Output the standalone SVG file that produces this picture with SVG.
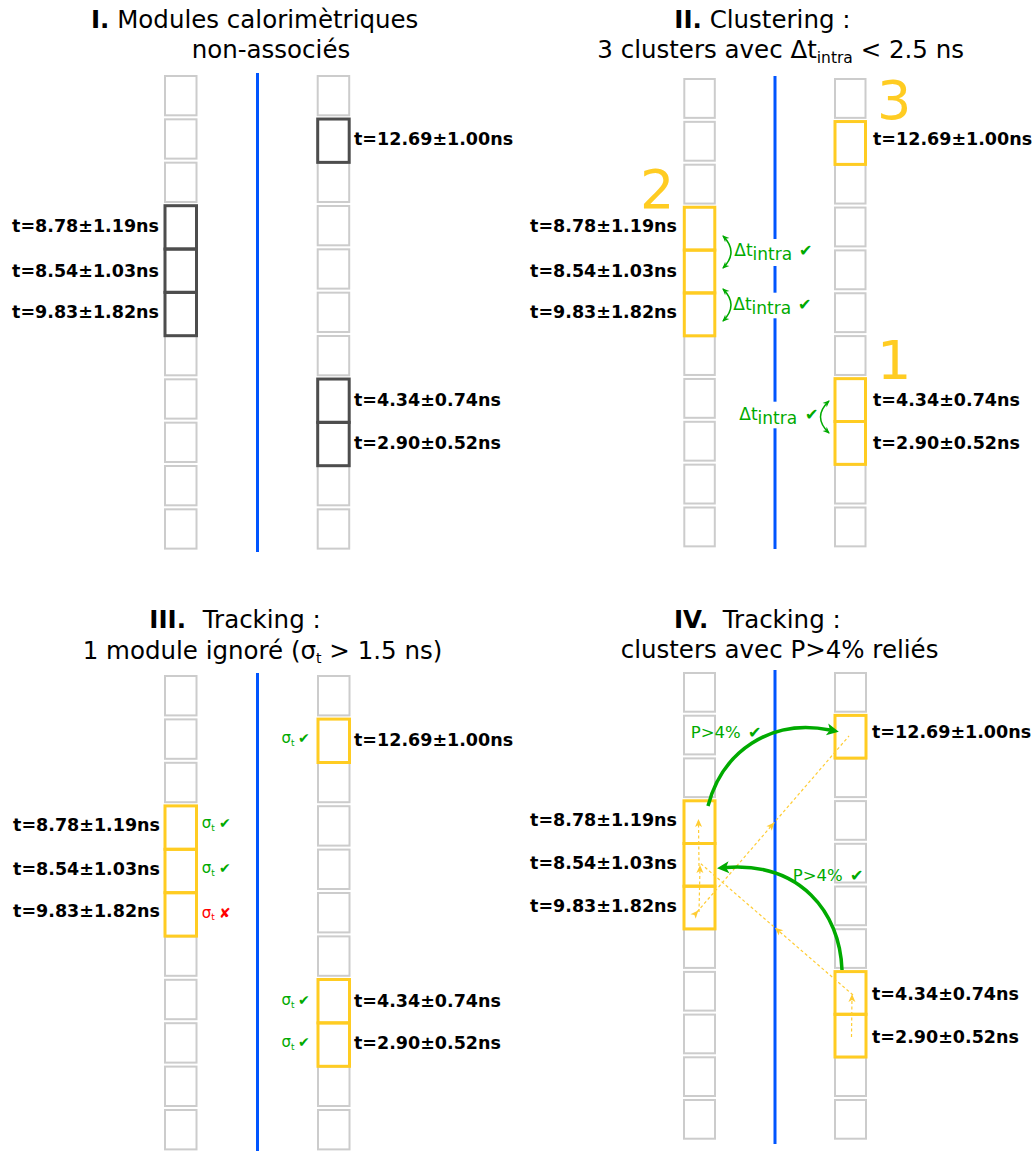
<svg xmlns="http://www.w3.org/2000/svg" width="1035" height="1151" viewBox="0 0 1035 1151">
<style>
text{font-family:"DejaVu Sans","Liberation Sans",sans-serif}
.t{font-size:24.5px;fill:#000}
.b{font-weight:bold}
.lab{font-size:17.5px;font-weight:bold;fill:#000}
.c{fill:#fff;stroke:#ccc;stroke-width:2}
.d{fill:none;stroke:#4d4d4d;stroke-width:3}
.y{fill:none;stroke:#ffcc22;stroke-width:3}
.axis{stroke:#0055ff;stroke-width:3}
.g{fill:#00aa00}
.r{fill:#ff0000}
.num{font-size:54px;fill:#ffcc22}
.dt{font-size:17px;fill:#00aa00}
.ck{font-size:16px}
.ck2{font-size:14px}
.sg{font-size:15px}
.ydash{fill:none;stroke:#ffcc33;stroke-width:1.2;stroke-dasharray:3 2.5}
.garc{fill:none;stroke:#00aa00;stroke-width:3.5}
.gsm{fill:none;stroke:#00aa00;stroke-width:1.5}
</style>
<defs>
<marker id="ga" viewBox="-12 -7 14 14" refX="-8" refY="0" markerWidth="14" markerHeight="14" markerUnits="userSpaceOnUse" orient="auto"><path d="M1,0 L-11,-6 L-8,0 L-11,6 z" fill="#00aa00"/></marker>
<marker id="gs" viewBox="-8 -5 10 10" refX="0" refY="0" markerWidth="10" markerHeight="10" markerUnits="userSpaceOnUse" orient="auto-start-reverse"><path d="M1,0 L-6,-3 L-4,0 L-6,3 z" fill="#00aa00"/></marker>
<marker id="ya" viewBox="-8 -5 10 10" refX="0" refY="0" markerWidth="10" markerHeight="10" markerUnits="userSpaceOnUse" orient="auto"><path d="M2,0 L-6,-3.5 L-4,0 L-6,3.5 z" fill="#ffcc33"/></marker>
</defs>
<rect width="1035" height="1151" fill="#fff"/>

<!-- Titles -->
<g id="title-I"><text class="t" x="91" y="27.5"><tspan class="b">I.</tspan> Modules calorimètriques</text><text class="t" x="191.7" y="58.3">non-associés</text></g>
<g id="title-II"><text class="t" x="674.3" y="28.3"><tspan class="b">II.</tspan> Clustering :</text><text class="t" x="597.3" y="58.3">3 clusters avec Δt<tspan font-size="15.5" dy="4.5">intra</tspan><tspan dy="-4.5"> &lt; 2.5 ns</tspan></text></g>
<g id="title-III"><text class="t" x="149.3" y="627.7"><tspan class="b">III.</tspan><tspan x="202.7">Tracking :</tspan></text><text class="t" x="82.7" y="659">1 module ignoré (σ<tspan font-size="14" dy="4">t</tspan><tspan dy="-4"> &gt; 1.5 ns)</tspan></text></g>
<g id="title-IV"><text class="t" x="674" y="628.3"><tspan class="b">IV.</tspan><tspan x="722.7">Tracking :</tspan></text><text class="t" x="620.7" y="657.7">clusters avec P&gt;4% reliés</text></g>

<!-- Axes -->
<g id="axes">
<line class="axis" x1="257.5" y1="73" x2="257.5" y2="552"/>
<line class="axis" x1="775" y1="76" x2="775" y2="549"/>
<line class="axis" x1="257.5" y1="673" x2="257.5" y2="1151"/>
<line class="axis" x1="775" y1="670" x2="775" y2="1144"/>
</g>

<!-- Panel I -->
<g id="p1-left" transform="translate(165,75)">
<rect class="c" x="0" y="1" width="31.5" height="39.3"/><rect class="c" x="0" y="44.33" width="31.5" height="39.3"/><rect class="c" x="0" y="87.67" width="31.5" height="39.3"/>
<rect class="c" x="0" y="261" width="31.5" height="39.3"/><rect class="c" x="0" y="304.33" width="31.5" height="39.3"/><rect class="c" x="0" y="347.67" width="31.5" height="39.3"/><rect class="c" x="0" y="391" width="31.5" height="39.3"/><rect class="c" x="0" y="434.33" width="31.5" height="39.3"/>
<rect class="d" x="0" y="130.7" width="31.5" height="43.33"/><rect class="d" x="0" y="174.03" width="31.5" height="43.33"/><rect class="d" x="0" y="217.37" width="31.5" height="43.33"/>
</g>
<g id="p1-right" transform="translate(317.7,75)">
<rect class="c" x="0" y="1" width="31.5" height="39.3"/><rect class="c" x="0" y="87.67" width="31.5" height="39.3"/><rect class="c" x="0" y="131" width="31.5" height="39.3"/><rect class="c" x="0" y="174.33" width="31.5" height="39.3"/><rect class="c" x="0" y="217.67" width="31.5" height="39.3"/><rect class="c" x="0" y="261" width="31.5" height="39.3"/><rect class="c" x="0" y="391" width="31.5" height="39.3"/><rect class="c" x="0" y="434.33" width="31.5" height="39.3"/>
<rect class="d" x="0" y="44.03" width="31.5" height="43.33"/><rect class="d" x="0" y="304.03" width="31.5" height="43.33"/><rect class="d" x="0" y="347.37" width="31.5" height="43.33"/>
</g>
<g id="p1-labels">
<text class="lab" x="354" y="145.3">t=12.69±1.00ns</text>
<text class="lab" x="159" y="232.3" text-anchor="end">t=8.78±1.19ns</text>
<text class="lab" x="159" y="277.3" text-anchor="end">t=8.54±1.03ns</text>
<text class="lab" x="159" y="318.3" text-anchor="end">t=9.83±1.82ns</text>
<text class="lab" x="354" y="406.3">t=4.34±0.74ns</text>
<text class="lab" x="354" y="449.3">t=2.90±0.52ns</text>
</g>

<!-- Panel II -->
<g id="p2-left" transform="translate(684.3,78)">
<rect class="c" x="0" y="1" width="30.5" height="38.85"/><rect class="c" x="0" y="43.85" width="30.5" height="38.85"/><rect class="c" x="0" y="86.7" width="30.5" height="38.85"/>
<rect class="c" x="0" y="258.1" width="30.5" height="38.85"/><rect class="c" x="0" y="300.95" width="30.5" height="38.85"/><rect class="c" x="0" y="343.8" width="30.5" height="38.85"/><rect class="c" x="0" y="386.65" width="30.5" height="38.85"/><rect class="c" x="0" y="429.5" width="30.5" height="38.85"/>
<rect class="y" x="0" y="129.25" width="30.5" height="42.85"/><rect class="y" x="0" y="172.1" width="30.5" height="42.85"/><rect class="y" x="0" y="214.95" width="30.5" height="42.85"/>
</g>
<g id="p2-right" transform="translate(835,78)">
<rect class="c" x="0" y="1" width="30.5" height="38.85"/><rect class="c" x="0" y="86.7" width="30.5" height="38.85"/><rect class="c" x="0" y="129.55" width="30.5" height="38.85"/><rect class="c" x="0" y="172.4" width="30.5" height="38.85"/><rect class="c" x="0" y="215.25" width="30.5" height="38.85"/><rect class="c" x="0" y="258.1" width="30.5" height="38.85"/><rect class="c" x="0" y="386.65" width="30.5" height="38.85"/><rect class="c" x="0" y="429.5" width="30.5" height="38.85"/>
<rect class="y" x="0" y="43.55" width="30.5" height="42.85"/><rect class="y" x="0" y="300.65" width="30.5" height="42.85"/><rect class="y" x="0" y="343.5" width="30.5" height="42.85"/>
</g>
<g id="p2-numbers">
<text class="num" x="877" y="119">3</text>
<text class="num" x="640" y="208">2</text>
<text class="num" x="877" y="379">1</text>
</g>
<g id="p2-labels">
<text class="lab" x="873" y="145.3">t=12.69±1.00ns</text>
<text class="lab" x="677" y="232.3" text-anchor="end">t=8.78±1.19ns</text>
<text class="lab" x="677" y="277.3" text-anchor="end">t=8.54±1.03ns</text>
<text class="lab" x="677" y="318.3" text-anchor="end">t=9.83±1.82ns</text>
<text class="lab" x="873" y="406.3">t=4.34±0.74ns</text>
<text class="lab" x="873" y="449.3">t=2.90±0.52ns</text>
</g>
<g id="p2-dt">
<rect x="732" y="239" width="84" height="27" fill="#fff"/>
<rect x="731" y="292.7" width="84" height="25.6" fill="#fff"/>
<rect x="737" y="401.7" width="84" height="26.6" fill="#fff"/>
<path class="gsm" d="M723,236 Q739,252 723,268" marker-start="url(#gs)" marker-end="url(#gs)"/>
<path class="gsm" d="M723,289 Q739,305 723,321" marker-start="url(#gs)" marker-end="url(#gs)"/>
<path class="gsm" d="M829,401 Q812,417 829,433" marker-start="url(#gs)" marker-end="url(#gs)"/>
<text class="dt" x="734.3" y="256">Δt<tspan dy="4">intra</tspan><tspan class="ck" x="799" dy="-4">✔</tspan></text>
<text class="dt" x="733.3" y="309.5">Δt<tspan dy="4">intra</tspan><tspan class="ck" x="798" dy="-4">✔</tspan></text>
<text class="dt" x="739.3" y="420">Δt<tspan dy="4">intra</tspan><tspan class="ck" x="805" dy="-4">✔</tspan></text>
</g>

<!-- Panel III -->
<g id="p3-left" transform="translate(165,675)">
<rect class="c" x="0" y="1" width="31.5" height="39.4"/><rect class="c" x="0" y="44.4" width="31.5" height="39.4"/><rect class="c" x="0" y="87.8" width="31.5" height="39.4"/>
<rect class="c" x="0" y="261.4" width="31.5" height="39.4"/><rect class="c" x="0" y="304.8" width="31.5" height="39.4"/><rect class="c" x="0" y="348.2" width="31.5" height="39.4"/><rect class="c" x="0" y="391.6" width="31.5" height="39.4"/><rect class="c" x="0" y="435" width="31.5" height="39.4"/>
<rect class="y" x="0" y="130.9" width="31.5" height="43.4"/><rect class="y" x="0" y="174.3" width="31.5" height="43.4"/><rect class="y" x="0" y="217.7" width="31.5" height="43.4"/>
</g>
<g id="p3-right" transform="translate(318,675)">
<rect class="c" x="0" y="1" width="31.5" height="39.4"/><rect class="c" x="0" y="87.8" width="31.5" height="39.4"/><rect class="c" x="0" y="131.2" width="31.5" height="39.4"/><rect class="c" x="0" y="174.6" width="31.5" height="39.4"/><rect class="c" x="0" y="218" width="31.5" height="39.4"/><rect class="c" x="0" y="261.4" width="31.5" height="39.4"/><rect class="c" x="0" y="391.6" width="31.5" height="39.4"/><rect class="c" x="0" y="435" width="31.5" height="39.4"/>
<rect class="y" x="0" y="44.1" width="31.5" height="43.4"/><rect class="y" x="0" y="304.5" width="31.5" height="43.4"/><rect class="y" x="0" y="347.9" width="31.5" height="43.4"/>
</g>
<g id="p3-labels">
<text class="lab" x="354" y="745.5">t=12.69±1.00ns</text>
<text class="lab" x="160" y="831.3" text-anchor="end">t=8.78±1.19ns</text>
<text class="lab" x="160" y="875.3" text-anchor="end">t=8.54±1.03ns</text>
<text class="lab" x="160" y="917.3" text-anchor="end">t=9.83±1.82ns</text>
<text class="lab" x="354" y="1006.5">t=4.34±0.74ns</text>
<text class="lab" x="354" y="1049">t=2.90±0.52ns</text>
</g>
<g id="p3-sigma">
<text class="sg g" x="201.7" y="828.3">σ<tspan font-size="9" dy="2.5">t</tspan><tspan class="ck2" x="219" dy="-2.5">✔</tspan></text>
<text class="sg g" x="201.7" y="873.3">σ<tspan font-size="9" dy="2.5">t</tspan><tspan class="ck2" x="219" dy="-2.5">✔</tspan></text>
<text class="sg r" x="201.7" y="917.7">σ<tspan font-size="9" dy="2.5">t</tspan><tspan class="ck2" x="219" dy="-2.5">✘</tspan></text>
<text class="sg g" x="281.5" y="743.3">σ<tspan font-size="9" dy="2.5">t</tspan><tspan class="ck2" x="298" dy="-2.5">✔</tspan></text>
<text class="sg g" x="281.5" y="1005">σ<tspan font-size="9" dy="2.5">t</tspan><tspan class="ck2" x="298" dy="-2.5">✔</tspan></text>
<text class="sg g" x="281.5" y="1047.3">σ<tspan font-size="9" dy="2.5">t</tspan><tspan class="ck2" x="298" dy="-2.5">✔</tspan></text>
</g>

<!-- Panel IV -->
<g id="p4-left" transform="translate(684,672)">
<rect class="c" x="0" y="1" width="31" height="38.7"/><rect class="c" x="0" y="43.7" width="31" height="38.7"/><rect class="c" x="0" y="86.4" width="31" height="38.7"/>
<rect class="c" x="0" y="257.2" width="31" height="38.7"/><rect class="c" x="0" y="299.9" width="31" height="38.7"/><rect class="c" x="0" y="342.6" width="31" height="38.7"/><rect class="c" x="0" y="385.3" width="31" height="38.7"/><rect class="c" x="0" y="428" width="31" height="38.7"/>
<rect class="y" x="0" y="128.8" width="31" height="42.7"/><rect class="y" x="0" y="171.5" width="31" height="42.7"/><rect class="y" x="0" y="214.2" width="31" height="42.7"/>
</g>
<g id="p4-right" transform="translate(835,672)">
<rect class="c" x="0" y="1" width="31" height="38.7"/><rect class="c" x="0" y="86.4" width="31" height="38.7"/><rect class="c" x="0" y="129.1" width="31" height="38.7"/><rect class="c" x="0" y="171.8" width="31" height="38.7"/><rect class="c" x="0" y="214.5" width="31" height="38.7"/><rect class="c" x="0" y="257.2" width="31" height="38.7"/><rect class="c" x="0" y="385.3" width="31" height="38.7"/><rect class="c" x="0" y="428" width="31" height="38.7"/>
<rect class="y" x="0" y="43.4" width="31" height="42.7"/><rect class="y" x="0" y="299.6" width="31" height="42.7"/><rect class="y" x="0" y="342.3" width="31" height="42.7"/>
</g>
<g id="p4-labels">
<text class="lab" x="872" y="738.3">t=12.69±1.00ns</text>
<text class="lab" x="677" y="826.3" text-anchor="end">t=8.78±1.19ns</text>
<text class="lab" x="677" y="869.3" text-anchor="end">t=8.54±1.03ns</text>
<text class="lab" x="677" y="912.3" text-anchor="end">t=9.83±1.82ns</text>
<text class="lab" x="872" y="1000.3">t=4.34±0.74ns</text>
<text class="lab" x="872" y="1043.3">t=2.90±0.52ns</text>
</g>
<g id="connectors">
<polyline class="ydash" points="697,912 773,824 849,736" marker-start="url(#ya)" marker-mid="url(#ya)"/>
<polyline class="ydash" points="853,995 776.5,929 700,863" marker-mid="url(#ya)"/>
<line class="ydash" x1="851.5" y1="1037" x2="852" y2="996" marker-end="url(#ya)"/>
<line class="ydash" x1="699" y1="912" x2="700" y2="867" marker-end="url(#ya)"/>
<line class="ydash" x1="699" y1="866" x2="698.5" y2="821" marker-end="url(#ya)"/>
<path class="garc" d="M708,806 C722,752 770,718 830,730" marker-end="url(#ga)"/>
<path class="garc" d="M842,970 C840,912 800,862 726,867.5" marker-end="url(#ga)"/>
<text class="g" font-size="16.5" x="690.7" y="737.7">P&gt;4%<tspan class="ck" x="748">✔</tspan></text>
<text class="g" font-size="16.5" x="792.7" y="880.7">P&gt;4%<tspan class="ck" x="850">✔</tspan></text>
</g>
</svg>
